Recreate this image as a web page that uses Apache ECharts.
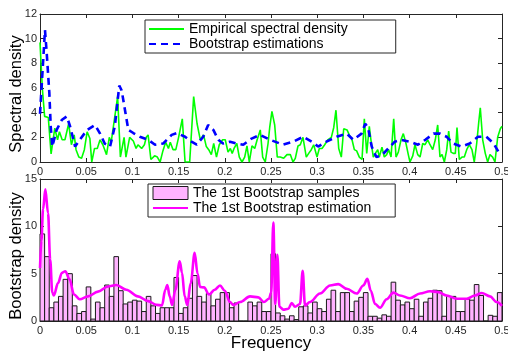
<!DOCTYPE html>
<html>
<head>
<meta charset="utf-8">
<script src="https://cdn.jsdelivr.net/npm/echarts@6/dist/echarts.min.js"></script>
<style>
  html, body { margin: 0; padding: 0; background: #fff; }
  #chart { width: 508px; height: 353px; }
</style>
</head>
<body>
<div id="chart"></div>
<script>
// top panel: empirical spectral density [freq, value]
var empirical = [
  [0, 9.7], [0.0025, 6.0], [0.005, 3.7], [0.009, 3.6], [0.012, 0.65], [0.016, 2.75], [0.019, 1.8], [0.021, 2.45],
  [0.024, 1.8], [0.027, 1.8], [0.031, 3.1], [0.034, 1.4], [0.037, 2.2], [0.039, 1.0], [0.042, 0.4], [0.045, 0.3],
  [0.048, 1.0], [0.051, 2.45], [0.054, 1.9], [0.056, 0.0], [0.059, 1.1], [0.062, 1.1], [0.065, 1.8], [0.068, 1.4],
  [0.072, 0.6], [0.075, 2.0], [0.077, 1.6], [0.081, 3.7], [0.084, 5.3], [0.087, 0.4], [0.091, 2.0], [0.093, 0.4],
  [0.097, 2.0], [0.101, 1.7], [0.104, 1.1], [0.106, 1.4], [0.110, 1.1], [0.113, 1.4], [0.115, 2.0], [0.117, 2.2],
  [0.120, 0.2], [0.124, 0.5], [0.127, 0.4], [0.130, 0.0], [0.133, 0.9], [0.136, 1.6], [0.139, 1.1], [0.141, 1.6],
  [0.144, 1.0], [0.147, 1.0], [0.150, 2.0], [0.154, 3.5], [0.157, 0.0], [0.162, 0.0], [0.1663, 5.3], [0.170, 3.1],
  [0.1735, 1.8], [0.177, 2.2], [0.180, 1.25], [0.1826, 1.0], [0.1854, 0.6], [0.188, 1.5], [0.191, 0.4], [0.194, 1.4],
  [0.1977, 1.8], [0.2005, 1.8], [0.2035, 0.8], [0.206, 1.1], [0.208, 0.7], [0.210, 1.1], [0.213, 1.5], [0.2157, 0.4],
  [0.2186, 0.0], [0.2215, 0.4], [0.224, 1.3], [0.2265, 0.0], [0.2294, 1.3], [0.2324, 1.1], [0.235, 1.8], [0.2384, 2.6],
  [0.241, 0.4], [0.2438, 0.0], [0.2468, 1.5], [0.2486, 2.8], [0.251, 4.1], [0.254, 3.0], [0.2568, 0.4], [0.260, 0.4],
  [0.2637, 0.3], [0.2673, 0.6], [0.2709, 0.6], [0.2738, 0.0], [0.2763, 0.3], [0.2792, 1.3], [0.2817, 1.4], [0.2846, 2.0],
  [0.2882, 0.4], [0.2908, 0.7], [0.2936, 1.0], [0.2962, 1.4], [0.2998, 0.4], [0.3023, 1.1], [0.3052, 1.1], [0.3081, 1.4],
  [0.3114, 1.8], [0.3153, 2.0], [0.3179, 2.8], [0.3203, 4.2], [0.3233, 1.1], [0.3261, 0.4], [0.3287, 2.7], [0.3323, 2.6],
  [0.3347, 2.2], [0.3377, 1.8], [0.3402, 1.0], [0.3427, 0.9], [0.3456, 0.4], [0.3485, 0.2], [0.351, 3.5], [0.3536, 0.7],
  [0.3564, 2.9], [0.3586, 1.5], [0.3607, 0.4], [0.3629, 0.7], [0.3655, 1.0], [0.3672, 0.4], [0.3701, 1.2], [0.3726, 0.4],
  [0.3752, 0.6], [0.3774, 1.0], [0.3799, 0.4], [0.3828, 3.5], [0.3853, 0.4], [0.3878, 0.8], [0.3907, 1.8], [0.3932, 2.3],
  [0.3961, 1.5], [0.3986, 0.6], [0.4004, 0.0], [0.4034, 0.5], [0.4058, 1.4], [0.4088, 0.6], [0.4113, 0.4], [0.4142, 1.5],
  [0.4167, 1.4], [0.4196, 1.8], [0.4221, 1.4], [0.425, 1.0], [0.4278, 1.8], [0.4304, 3.0], [0.4329, 0.4], [0.4351, 0.6],
  [0.4376, 0.0], [0.4402, 1.0], [0.4423, 2.5], [0.4448, 0.8], [0.4473, 0.7], [0.4495, 0.7], [0.4513, 2.8], [0.4538, 0.2],
  [0.4567, 0.4], [0.4592, 0.4], [0.4618, 1.0], [0.4646, 1.4], [0.4675, 1.0], [0.47, 0.0], [0.4726, 1.5], [0.4748, 3.2],
  [0.4765, 4.4], [0.4791, 1.8], [0.4819, 0.7], [0.4845, 0.0], [0.487, 0.6], [0.4899, 0.4], [0.4924, 0.0], [0.4953, 2.0],
  [0.4982, 2.7], [0.5, 2.9]
];

// top panel: bootstrap estimations
var bootEst = [
  [0, 3.9], [0.0054, 10.7], [0.0073, 8.8], [0.0101, 5.6], [0.0116, 2.9], [0.0133, 1.25], [0.018, 2.6], [0.0235, 3.4],
  [0.029, 3.7], [0.0325, 2.9], [0.038, 1.25], [0.043, 1.8], [0.051, 2.6], [0.0595, 3.0], [0.065, 2.3], [0.070, 1.5],
  [0.0758, 1.25], [0.081, 2.9], [0.0858, 6.2], [0.0884, 5.8], [0.092, 4.2], [0.0956, 2.6], [0.101, 2.35], [0.108, 2.05],
  [0.117, 1.8], [0.1245, 1.4], [0.1334, 1.5], [0.1425, 2.2], [0.148, 2.35], [0.157, 2.05], [0.164, 1.65], [0.1696, 1.4],
  [0.1767, 2.05], [0.182, 3.0], [0.1876, 2.6], [0.193, 1.8], [0.198, 1.5], [0.2056, 1.65], [0.213, 1.5], [0.22, 1.4],
  [0.229, 1.9], [0.238, 2.2], [0.249, 1.8], [0.263, 1.4], [0.274, 1.65], [0.285, 2.05], [0.294, 1.65], [0.301, 1.25],
  [0.310, 1.65], [0.321, 2.05], [0.332, 2.3], [0.339, 1.8], [0.348, 2.3], [0.352, 3.1], [0.355, 2.8], [0.359, 1.25],
  [0.364, 0.4], [0.370, 0.55], [0.377, 1.1], [0.384, 1.65], [0.391, 1.8], [0.400, 1.65], [0.409, 1.4], [0.417, 1.8],
  [0.426, 2.3], [0.433, 2.3], [0.440, 2.05], [0.447, 1.5], [0.456, 1.25], [0.465, 1.5], [0.474, 2.05], [0.483, 2.05],
  [0.491, 1.5], [0.496, 0.85], [0.4997, 0.6]
];

// bottom panel: histogram of the 1st bootstrap sample, bins of width 0.005 from 0
var binWidth = 0.005;
var binCounts = [
  9.2, 6.8, 1.4, 2.0, 2.6, 4.4, 5.0, 1.6, 0.8, 1.0,
  3.6, 0.2, 2.0, 1.4, 3.8, 2.6, 6.8, 3.2, 1.8, 2.0,
  2.2, 2.1, 1.0, 2.6, 1.6, 0.8, 1.4, 1.4, 1.4, 4.6,
  0.8, 1.4, 2.4, 4.8, 2.6, 2.0, 2.9, 1.6, 2.3, 3.0,
  3.0, 1.4, 1.9, 0, 0, 2.0, 1.6, 2.0, 1.0, 1.0,
  7.1, 0.85, 0.55, 0.2, 0.55, 0.15, 1.5, 1.6, 0.85, 2.0,
  1.3, 1.0, 2.3, 3.25, 1.0, 3.0, 3.0, 1.0, 2.1, 2.5,
  3.0, 0.5, 0.5, 0.3, 0.65, 0.5, 4.1, 2.2, 1.7, 2.0,
  1.3, 2.3, 0.5, 2.0, 2.4, 3.25, 3.2, 0.5, 2.6, 2.6,
  1.0, 1.0, 2.3, 2.2, 3.85, 2.7, 0, 0.6, 0.5, 3.0
];

// bottom panel: the 1st bootstrap estimation
var bootCurve = [
  [0, 5.6], [0.0015, 8.5], [0.0033, 11.8], [0.0058, 13.9], [0.0087, 11.4], [0.011, 6.5], [0.0133, 3.0], [0.015, 2.7],
  [0.0195, 4.0], [0.0238, 5.1], [0.0274, 5.25], [0.032, 4.4], [0.0368, 2.8], [0.043, 2.3], [0.052, 2.6], [0.0628, 3.1],
  [0.0736, 3.65], [0.0826, 3.8], [0.0934, 3.3], [0.106, 2.6], [0.117, 2.1], [0.126, 1.7], [0.132, 1.65], [0.1356, 3.3],
  [0.1378, 3.8], [0.1404, 2.6], [0.143, 1.7], [0.1465, 3.3], [0.1512, 6.3], [0.1537, 5.1], [0.1566, 2.6], [0.1594, 1.7],
  [0.1631, 4.0], [0.1674, 7.2], [0.1705, 5.0], [0.1732, 3.6], [0.1775, 3.55], [0.183, 2.8], [0.189, 3.3], [0.1948, 3.75],
  [0.2, 3.2], [0.2056, 2.0], [0.2092, 1.7], [0.2165, 2.0], [0.2273, 2.6], [0.2363, 2.5], [0.2424, 2.0], [0.2478, 2.35],
  [0.2502, 3.0], [0.2525, 10.4], [0.2547, 1.8], [0.2569, 7.0], [0.2591, 1.5], [0.2634, 1.2], [0.2688, 1.3], [0.2724, 1.9],
  [0.276, 1.5], [0.2814, 1.8], [0.2843, 5.3], [0.2868, 1.65], [0.2922, 2.0], [0.303, 2.9], [0.3139, 3.75], [0.3228, 3.9],
  [0.332, 3.4], [0.3428, 2.9], [0.3499, 3.75], [0.3543, 4.45], [0.358, 3.2], [0.3626, 1.8], [0.368, 1.4], [0.3752, 2.3],
  [0.3824, 3.0], [0.3896, 2.7], [0.4004, 2.4], [0.4113, 2.9], [0.4221, 3.15], [0.4311, 3.05], [0.4402, 2.7], [0.451, 2.35],
  [0.4618, 2.35], [0.4708, 2.7], [0.478, 2.95], [0.487, 2.6], [0.4942, 2.0], [0.5, 1.6]
];

var axisColor = "#262626";
var font = "'Liberation Sans', Arial, sans-serif";
var noSymbol = { color: "rgba(0,0,0,0)", borderWidth: 0, opacity: 0 };

function histData() {
  var arr = [];
  for (var i = 0; i < binCounts.length; i++) {
    arr.push([i * binWidth, (i + 1) * binWidth, binCounts[i]]);
  }
  return arr;
}

function xAxisOf(grid, pos, labels, name) {
  return {
    type: "value",
    gridIndex: grid,
    position: pos,
    min: 0,
    max: 0.5,
    interval: 0.05,
    name: name || "",
    nameLocation: "middle",
    nameGap: 14,
    nameMoveOverlap: false,
    nameTextStyle: { color: "#000", fontSize: 17, fontFamily: font },
    axisLine: { show: true, onZero: false, lineStyle: { color: axisColor, width: 1 } },
    axisTick: { show: true, inside: true, length: 4, lineStyle: { color: axisColor } },
    axisLabel: { show: labels, color: axisColor, fontSize: 11, margin: 4, fontFamily: font },
    splitLine: { show: false }
  };
}

function yAxisOf(grid, pos, max, step, labels) {
  return {
    type: "value",
    gridIndex: grid,
    position: pos,
    min: 0,
    max: max,
    interval: step,
    axisLine: { show: true, onZero: false, lineStyle: { color: axisColor, width: 1 } },
    axisTick: { show: true, inside: true, length: 4, lineStyle: { color: axisColor } },
    axisLabel: { show: labels, color: axisColor, fontSize: 11, margin: 3, fontFamily: font },
    splitLine: { show: false }
  };
}

function yName(text, cy) {
  return {
    type: "text",
    x: 16,
    y: cy,
    rotation: Math.PI / 2,
    style: {
      text: text,
      fill: "#000",
      font: "16.5px " + font,
      textAlign: "center",
      textVerticalAlign: "middle"
    }
  };
}

var myChart = echarts.init(document.getElementById("chart"), null, { renderer: "canvas" });
var option = {
  animation: false,
  backgroundColor: "#fff",
  textStyle: { fontFamily: font },
  grid: [
    { left: 40, top: 14, width: 462, height: 148, outerBoundsMode: "none" },
    { left: 40, top: 179, width: 462, height: 142, outerBoundsMode: "none" }
  ],
  xAxis: [
    xAxisOf(0, "bottom", true),
    xAxisOf(0, "top", false),
    xAxisOf(1, "bottom", true, "Frequency"),
    xAxisOf(1, "top", false)
  ],
  yAxis: [
    yAxisOf(0, "left", 12, 2, true),
    yAxisOf(0, "right", 12, 2, false),
    yAxisOf(1, "left", 15, 5, true),
    yAxisOf(1, "right", 15, 5, false)
  ],
  graphic: [
    yName("Spectral density", 94),
    yName("Bootstrap density", 256)
  ],
  legend: [
    {
      data: [
        { name: "Empirical spectral density", itemStyle: noSymbol },
        { name: "Bootstrap estimations", itemStyle: noSymbol }
      ],
      orient: "vertical",
      left: 145,
      top: 20,
      itemWidth: 35,
      itemHeight: 14,
      itemGap: 1,
      padding: [2, 48, 2, 3],
      backgroundColor: "#fff",
      borderColor: "#262626",
      borderWidth: 1,
      borderRadius: 0,
      selectedMode: false,
      textStyle: { color: "#000", fontSize: 14, fontFamily: font }
    },
    {
      data: [
        { name: "The 1st Bootstrap samples", icon: "rect",
          itemStyle: { color: "#ffb3ff", borderColor: "#1a1a1a", borderWidth: 1 } },
        { name: "The 1st Bootstrap estimation", itemStyle: noSymbol }
      ],
      orient: "vertical",
      left: 148,
      top: 184,
      itemWidth: 35,
      itemHeight: 13,
      itemGap: 1,
      padding: [2, 24, 2, 4],
      backgroundColor: "#fff",
      borderColor: "#262626",
      borderWidth: 1,
      borderRadius: 0,
      selectedMode: false,
      textStyle: { color: "#000", fontSize: 14, fontFamily: font }
    }
  ],
  series: [
    {
      name: "Empirical spectral density",
      type: "line",
      xAxisIndex: 0,
      yAxisIndex: 0,
      data: empirical,
      symbol: "none",
      lineStyle: { color: "#00ff00", width: 1.6 },
      itemStyle: { color: "#00ff00" },
      z: 2
    },
    {
      name: "Bootstrap estimations",
      type: "line",
      xAxisIndex: 0,
      yAxisIndex: 0,
      data: bootEst,
      symbol: "none",
      lineStyle: { color: "#0000ff", width: 2.6, type: [7, 5] },
      itemStyle: { color: "#0000ff" },
      z: 3
    },
    {
      name: "The 1st Bootstrap samples",
      type: "custom",
      xAxisIndex: 2,
      yAxisIndex: 2,
      data: histData(),
      encode: { x: [0, 1], y: 2 },
      itemStyle: { color: "#ffb3ff", borderColor: "#1a1a1a", borderWidth: 1 },
      renderItem: function (params, api) {
        var p0 = api.coord([api.value(0), api.value(2)]);
        var p1 = api.coord([api.value(1), 0]);
        return {
          type: "rect",
          shape: { x: p0[0], y: p0[1], width: p1[0] - p0[0], height: p1[1] - p0[1] },
          style: { fill: "#ffb3ff", stroke: "#1a1a1a", lineWidth: 1 }
        };
      },
      z: 2
    },
    {
      name: "The 1st Bootstrap estimation",
      type: "line",
      xAxisIndex: 2,
      yAxisIndex: 2,
      data: bootCurve,
      symbol: "none",
      smooth: 0.35,
      smoothMonotone: "x",
      lineStyle: { color: "#ff00ff", width: 2.6 },
      itemStyle: { color: "#ff00ff" },
      z: 3
    }
  ]
};
myChart.setOption(option);
</script>
</body>
</html>
